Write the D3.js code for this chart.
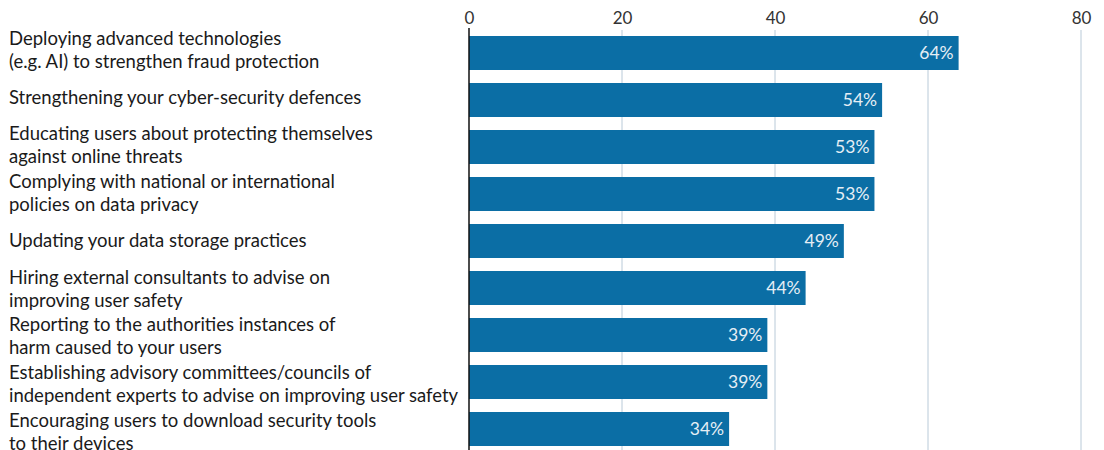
<!DOCTYPE html>
<html>
<head>
<meta charset="utf-8">
<script src="https://cdn.jsdelivr.net/npm/d3@7"></script>
<style>
  html, body { margin: 0; padding: 0; background: #fff; overflow: hidden; }
  svg { display: block; }
  text { font-family: Lato, "Noto Sans", sans-serif; }
</style>
</head>
<body>
<svg id="chart" width="1104" height="450"></svg>
<script>
const categories = [
  ["Deploying advanced technologies", "(e.g. AI) to strengthen fraud protection"],
  ["Strengthening your cyber-security defences"],
  ["Educating users about protecting themselves", "against online threats"],
  ["Complying with national or international", "policies on data privacy"],
  ["Updating your data storage practices"],
  ["Hiring external consultants to advise on", "improving user safety"],
  ["Reporting to the authorities instances of", "harm caused to your users"],
  ["Establishing advisory committees/councils of", "independent experts to advise on improving user safety"],
  ["Encouraging users to download security tools", "to their devices"]
];
const values = [64, 54, 53, 53, 49, 44, 39, 39, 34];
const tickValues = [0, 20, 40, 60, 80];

const svg = d3.select("#chart");
const margin = { left: 469, right: 23, top: 36 };
const step = 47;
const x = d3.scaleLinear().domain([0, 80]).range([margin.left, 1104 - margin.right]);
const y = d3.scaleBand()
  .domain(d3.range(values.length))
  .range([margin.top - 6.5, margin.top - 6.5 + step * values.length])
  .paddingInner(13 / 47)
  .paddingOuter(6.5 / 47);
// label rows use a slightly longer step than the bars
const labelStep = 47.75;
const yLab = d3.scaleBand()
  .domain(d3.range(values.length))
  .range([27, 27 + labelStep * values.length]);

// gridlines
svg.append("g")
  .selectAll("line")
  .data(tickValues.filter(d => d > 0))
  .join("line")
  .attr("x1", d => x(d)).attr("x2", d => x(d))
  .attr("y1", 30).attr("y2", 450)
  .attr("stroke", "#b9cad8").attr("stroke-width", 1);

// top axis
const axis = svg.append("g")
  .attr("transform", "translate(0,29)")
  .call(d3.axisTop(x).tickValues(tickValues).tickSize(0).tickPadding(5));
axis.select(".domain").remove();
axis.selectAll("text")
  .attr("font-size", 17)
  .attr("fill", "#333")
  .style("font-family", "Lato, 'Noto Sans', sans-serif");

// bars
svg.append("g")
  .selectAll("rect")
  .data(values)
  .join("rect")
  .attr("x", x(0))
  .attr("y", (d, i) => y(i))
  .attr("width", d => x(d) - x(0))
  .attr("height", y.bandwidth())
  .attr("fill", "#0b6ea5");

// zero line
svg.append("line")
  .attr("x1", x(0)).attr("x2", x(0))
  .attr("y1", 28).attr("y2", 450)
  .attr("stroke", "#111").attr("stroke-width", 1.5);

// value labels
svg.append("g")
  .selectAll("text")
  .data(values)
  .join("text")
  .attr("x", d => x(d) - 5)
  .attr("y", (d, i) => y(i) + y.bandwidth() / 2)
  .attr("dy", "0.36em")
  .attr("text-anchor", "end")
  .attr("font-size", 17.5)
  .attr("fill", "#e6eef5")
  .text(d => d + "%");

// category labels
const lab = svg.append("g")
  .selectAll("text")
  .data(categories)
  .join("text")
  .attr("x", 9)
  .attr("font-size", 18.5)
  .attr("fill", "#1a1a1a");
lab.each(function (lines, i) {
  const top = yLab(i) + 11.5;
  const lh = 23;
  const start = lines.length === 1 ? top + lh / 2 : top;
  d3.select(this).selectAll("tspan")
    .data(lines)
    .join("tspan")
    .attr("x", 9)
    .attr("y", (d, j) => start + j * lh)
    .attr("dy", "0.35em")
    .text(d => d);
});
</script>
</body>
</html>
